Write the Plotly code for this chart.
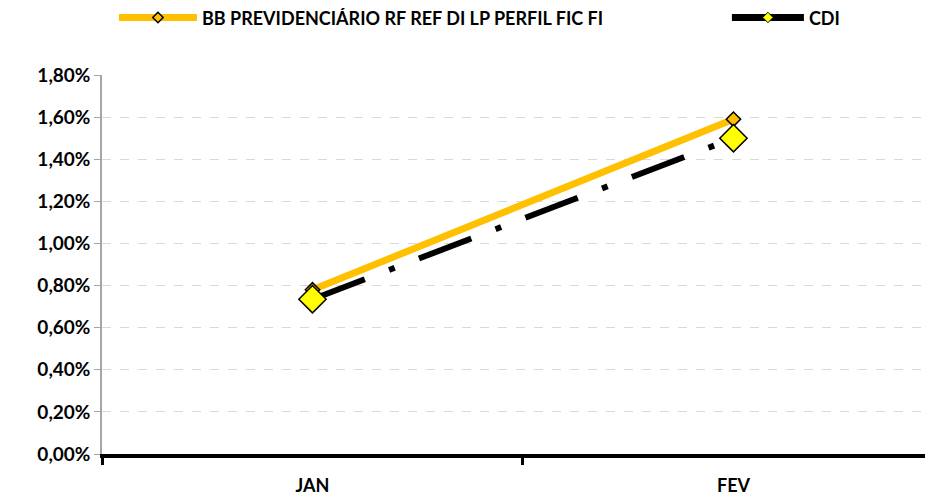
import plotly.graph_objects as go

categories = ["JAN", "FEV"]
bb_values = [0.78, 1.59]
cdi_values = [0.735, 1.50]
bb_name = "BB PREVIDENCIÁRIO RF REF DI LP PERFIL FIC FI"
cdi_name = "CDI"
y_ticks = [0, 0.2, 0.4, 0.6, 0.8, 1.0, 1.2, 1.4, 1.6, 1.8]
y_tick_labels = [f"{v:.2f}%".replace(".", ",") for v in y_ticks]

FONT = "Lato, Open Sans, sans-serif"
GOLD = "#FFC000"

fig = go.Figure()
# data traces
fig.add_trace(go.Scatter(
    x=categories, y=bb_values, name=bb_name, mode="lines+markers", showlegend=False,
    line=dict(color=GOLD, width=7),
    marker=dict(symbol="diamond", size=11, color=GOLD,
                line=dict(color="black", width=1.5)),
))
fig.add_trace(go.Scatter(
    x=categories, y=cdi_values, name=cdi_name, mode="lines+markers", showlegend=False,
    line=dict(color="black", width=6, dash="56px,26px,6px,26px"),
    marker=dict(symbol="diamond", size=21, color="#FFFF00",
                line=dict(color="black", width=1.5)),
))
# legend entries
fig.add_trace(go.Scatter(
    x=[None], y=[None], name=bb_name, mode="lines+markers", legend="legend",
    line=dict(color=GOLD, width=7),
    marker=dict(symbol="diamond", size=8, color=GOLD,
                line=dict(color="black", width=1.5)),
))
fig.add_trace(go.Scatter(
    x=[None], y=[None], name=cdi_name, mode="lines+markers", legend="legend2",
    line=dict(color="black", width=7),
    marker=dict(symbol="diamond", size=8, color="#FFFF00",
                line=dict(color="black", width=1)),
))

legend_font = dict(family=FONT, size=18, color="black", weight="bold")
fig.update_layout(
    width=925, height=489,
    margin=dict(l=94, r=0, t=67, b=43),
    paper_bgcolor="white", plot_bgcolor="white",
    font=dict(family=FONT, size=15, color="black"),
    showlegend=True,
    legend=dict(orientation="h", x=0.0144, y=0.98, xanchor="left", yanchor="middle",
                yref="container", itemwidth=78, font=legend_font),
    legend2=dict(orientation="h", x=0.752, y=0.98, xanchor="left", yanchor="middle",
                 yref="container", itemwidth=72, font=legend_font),
)

fig.update_xaxes(
    type="category", range=[-0.5, 1.474], tickson="boundaries",
    ticks="outside", ticklen=7, tickwidth=3, tickcolor="black",
    showline=True, linecolor="black", linewidth=4,
    showgrid=False, zeroline=False, automargin=False,
    ticklabelstandoff=12,
    tickfont=dict(family=FONT, size=18, color="black", weight="bold"),
)
fig.update_yaxes(
    range=[0, 1.8], tickvals=y_ticks, ticktext=y_tick_labels,
    ticks="outside", ticklen=6, tickwidth=1, tickcolor="#A6A6A6",
    showline=True, linecolor="#A6A6A6", linewidth=1.5,
    showgrid=True, gridcolor="#D9D9D9", gridwidth=1, griddash="dash",
    zeroline=False, automargin=False,
    tickfont=dict(family=FONT, size=19, color="black", weight="bold"),
)

fig.write_html("out.html")
